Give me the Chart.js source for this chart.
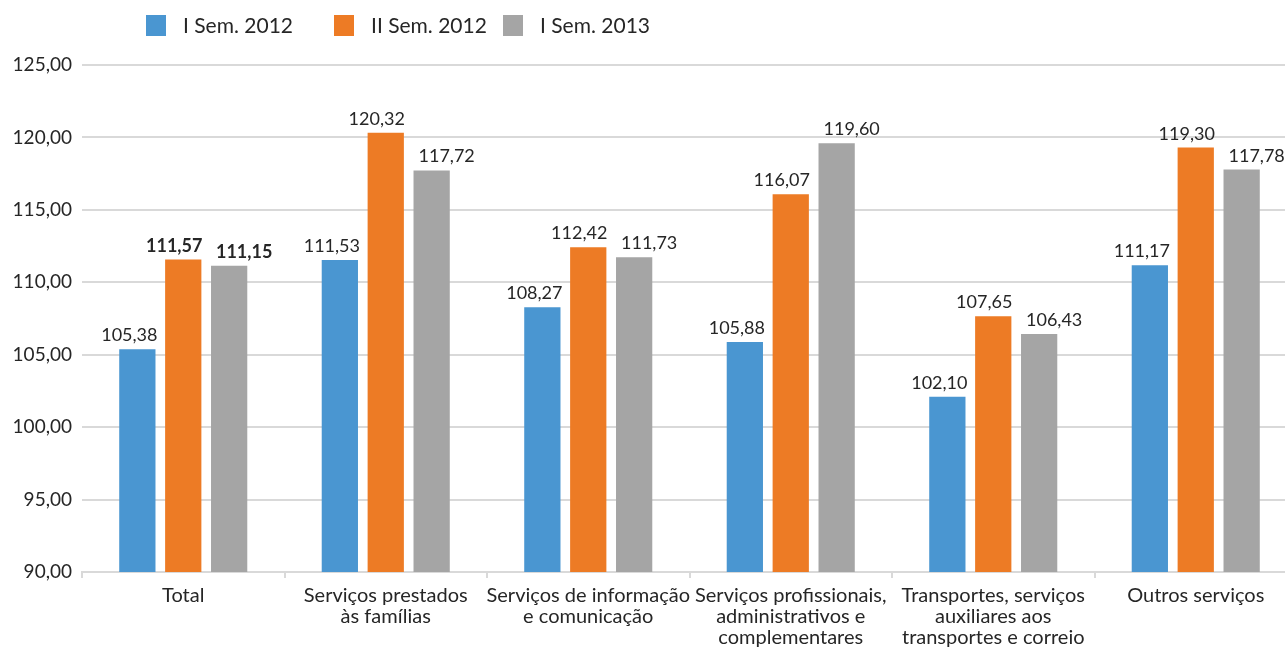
<!DOCTYPE html>
<html>
<head>
<meta charset="utf-8">
<script src="https://cdn.jsdelivr.net/npm/chart.js@4"></script>
<style>
html,body{margin:0;padding:0;background:#fff;overflow:hidden;}
#wrap{width:1285px;height:648px;position:relative;overflow:hidden;}
</style>
</head>
<body>
<div id="wrap"><canvas id="c" width="1297" height="648"></canvas></div>
<script>
const categories = [
  ["Total"],
  ["Serviços prestados", "às famílias"],
  ["Serviços de informação", "e comunicação"],
  ["Serviços profissionais,", "administrativos e", "complementares"],
  ["Transportes, serviços", "auxiliares aos", "transportes e correio"],
  ["Outros serviços"]
];
const seriesNames = ["I Sem. 2012", "II Sem. 2012", "I Sem. 2013"];
const sem1_2012 = [105.38, 111.53, 108.27, 105.88, 102.10, 111.17];
const sem2_2012 = [111.57, 120.32, 112.42, 116.07, 107.65, 119.30];
const sem1_2013 = [111.15, 117.72, 111.73, 119.60, 106.43, 117.78];
const yTicks = [90, 95, 100, 105, 110, 115, 120, 125];
const colors = ["#4A96D1", "#ED7B25", "#A5A5A5"];

const FONT = "Lato, 'Open Sans', sans-serif";
const TEXT = "#262626";
const fmt = v => v.toFixed(2).replace(".", ",");
const labelShift = [-8, -9, 15];

const valueLabels = {
  id: "valueLabels",
  afterDatasetsDraw(chart) {
    const ctx = chart.ctx;
    ctx.save();
    ctx.fillStyle = TEXT;
    ctx.textAlign = "center";
    ctx.textBaseline = "alphabetic";
    chart.data.datasets.forEach((ds, di) => {
      const meta = chart.getDatasetMeta(di);
      meta.data.forEach((bar, i) => {
        const bold = (i === 0 && di > 0);
        ctx.font = (bold ? "bold " : "") + "18px " + FONT;
        ctx.fillText(fmt(ds.data[i]), bar.x + labelShift[di], bar.y - 8);
      });
    });
    ctx.restore();
  }
};

const customLegend = {
  id: "customLegend",
  afterDraw(chart) {
    const ctx = chart.ctx;
    const xs = [146, 334, 503];
    ctx.save();
    ctx.font = "21px " + FONT;
    ctx.textBaseline = "middle";
    ctx.textAlign = "left";
    seriesNames.forEach((n, i) => {
      ctx.fillStyle = colors[i];
      ctx.fillRect(xs[i], 15, 20, 21);
      ctx.fillStyle = TEXT;
      ctx.fillText(n, xs[i] + 37, 26);
    });
    ctx.restore();
  }
};

new Chart(document.getElementById("c"), {
  type: "bar",
  data: {
    labels: categories,
    datasets: [
      { label: seriesNames[0], data: sem1_2012, backgroundColor: colors[0] },
      { label: seriesNames[1], data: sem2_2012, backgroundColor: colors[1] },
      { label: seriesNames[2], data: sem1_2013, backgroundColor: colors[2] }
    ]
  },
  options: {
    responsive: false,
    animation: false,
    layout: { padding: { top: 65, right: 0, left: 0, bottom: 0 } },
    datasets: { bar: { categoryPercentage: 0.68, barPercentage: 0.79 } },
    plugins: { legend: { display: false }, tooltip: { enabled: false } },
    scales: {
      x: {
        grid: { display: true, drawOnChartArea: false, offset: true, color: "#d9d9d9", lineWidth: 2, tickLength: 6 },
        border: { display: true, color: "#d9d9d9", width: 2 },
        ticks: { color: TEXT, font: { family: FONT, size: 20, lineHeight: 1.05 }, padding: 7, maxRotation: 0, autoSkip: false },
        afterFit: s => { s.height = 76; }
      },
      y: {
        min: 90, max: 125,
        afterBuildTicks: s => { s.ticks = yTicks.map(v => ({ value: v })); },
        grid: { color: "#d9d9d9", lineWidth: 2, drawTicks: false },
        border: { display: false },
        ticks: { color: TEXT, font: { family: FONT, size: 19 }, padding: 10, callback: v => fmt(v) },
        afterFit: s => { s.width = 82; }
      }
    }
  },
  plugins: [valueLabels, customLegend]
});
</script>
</body>
</html>
